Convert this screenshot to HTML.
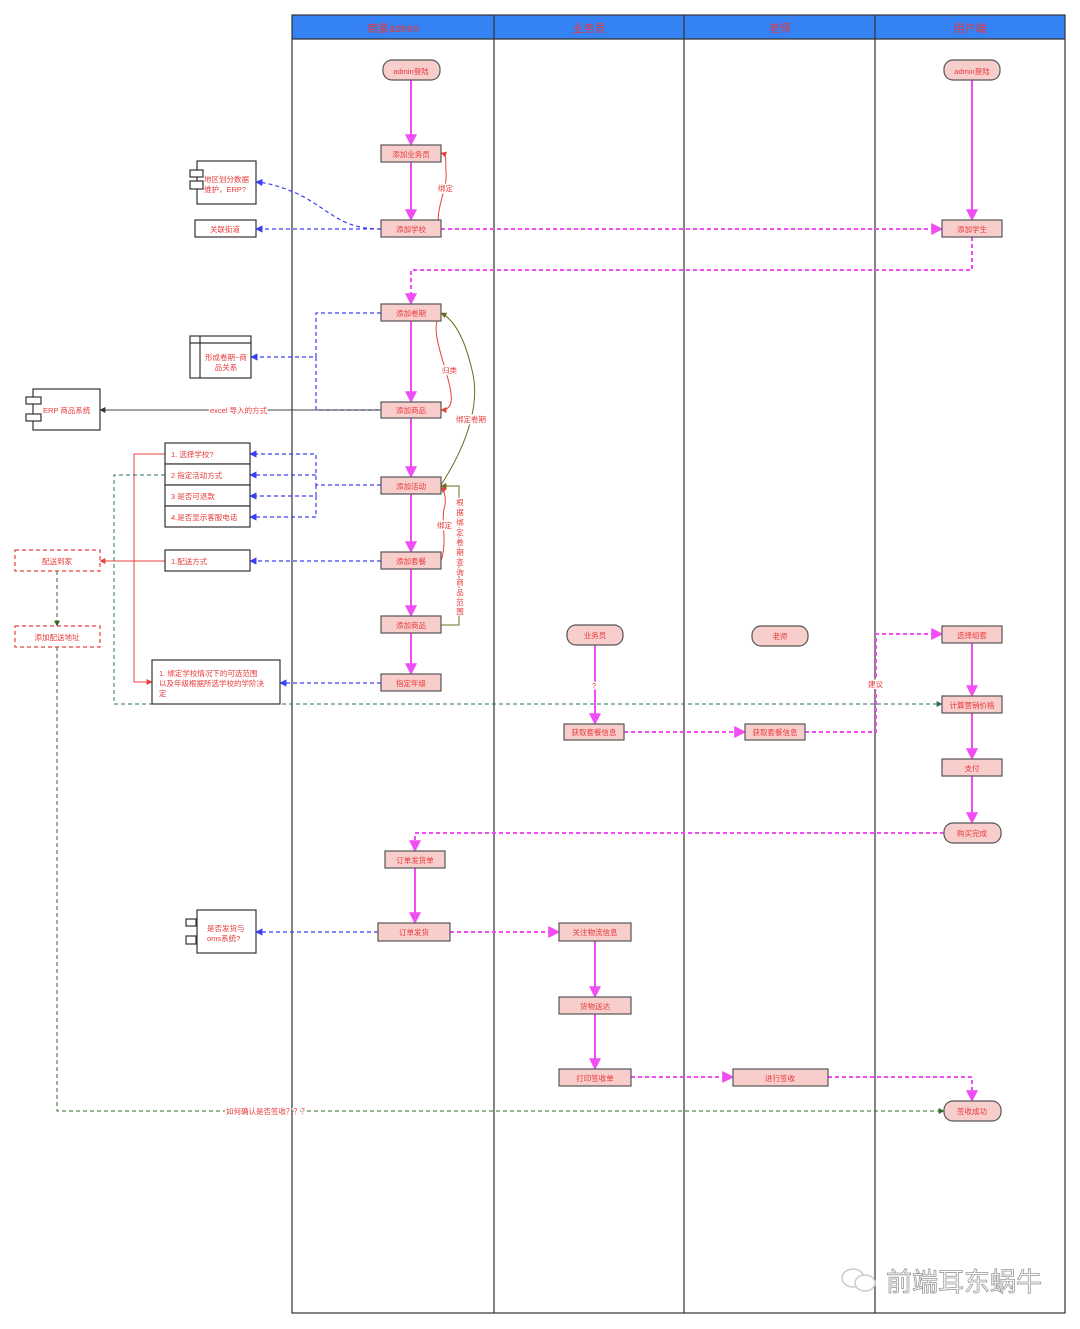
<!DOCTYPE html>
<html><head><meta charset="utf-8"><style>
html,body{margin:0;padding:0;background:#fff}
svg{display:block}
text{font-family:"Liberation Sans","Noto Sans CJK SC",sans-serif;fill:#e8393a;font-size:7.5px}
</style></head><body>
<svg width="1080" height="1329" viewBox="0 0 1080 1329" xmlns="http://www.w3.org/2000/svg">
<defs>
<marker id="mg" viewBox="0 0 10 10" refX="9" refY="5" markerWidth="6" markerHeight="6" orient="auto"><path d="M0,0L10,5L0,10z" fill="#f04df5"/></marker>
<marker id="bl" viewBox="0 0 10 10" refX="9" refY="5" markerWidth="6" markerHeight="6" orient="auto"><path d="M0,0L10,5L0,10z" fill="#3a3ef5"/></marker>
<marker id="rd" viewBox="0 0 10 10" refX="9" refY="5" markerWidth="6" markerHeight="6" orient="auto"><path d="M0,0L10,5L0,10z" fill="#e8413a"/></marker>
<marker id="ol" viewBox="0 0 10 10" refX="9" refY="5" markerWidth="6" markerHeight="6" orient="auto"><path d="M0,0L10,5L0,10z" fill="#6b6b1e"/></marker>
<marker id="tl" viewBox="0 0 10 10" refX="9" refY="5" markerWidth="6" markerHeight="6" orient="auto"><path d="M0,0L10,5L0,10z" fill="#2f6b6a"/></marker>
<marker id="gr" viewBox="0 0 10 10" refX="9" refY="5" markerWidth="6" markerHeight="6" orient="auto"><path d="M0,0L10,5L0,10z" fill="#2f6b22"/></marker>
<marker id="bk" viewBox="0 0 10 10" refX="9" refY="5" markerWidth="6" markerHeight="6" orient="auto"><path d="M0,0L10,5L0,10z" fill="#333"/></marker>
</defs>
<!-- lanes -->
<rect x="292" y="15" width="773" height="24" fill="#3582f5"/>
<g stroke="#333" stroke-width="1.2" fill="none">
<rect x="292" y="15" width="773" height="1298"/>
<line x1="292" y1="39" x2="1065" y2="39"/>
<line x1="494" y1="15" x2="494" y2="1313"/>
<line x1="684" y1="15" x2="684" y2="1313"/>
<line x1="875" y1="15" x2="875" y2="1313"/>
</g>
<g text-anchor="middle">
<text x="393" y="32" style="font-size:11px">商家admin</text>
<text x="589" y="32" style="font-size:11px">业务员</text>
<text x="780" y="32" style="font-size:11px">老师</text>
<text x="970" y="32" style="font-size:11px">用户端</text>
</g>

<!-- connectors magenta solid -->
<g stroke="#f04df5" stroke-width="2" fill="none" marker-end="url(#mg)">
<line x1="411" y1="80" x2="411" y2="145"/>
<line x1="411" y1="162" x2="411" y2="220"/>
<line x1="411" y1="321" x2="411" y2="402"/>
<line x1="411" y1="418" x2="411" y2="477"/>
<line x1="411" y1="494" x2="411" y2="552"/>
<line x1="411" y1="569" x2="411" y2="616"/>
<line x1="411" y1="633" x2="411" y2="674"/>
<line x1="415" y1="868" x2="415" y2="923"/>
<line x1="972" y1="80" x2="972" y2="220"/>
<line x1="972" y1="643" x2="972" y2="696"/>
<line x1="972" y1="713" x2="972" y2="759"/>
<line x1="972" y1="776" x2="972" y2="823"/>
<line x1="595" y1="645" x2="595" y2="724"/>
<line x1="595" y1="941" x2="595" y2="997"/>
<line x1="595" y1="1014" x2="595" y2="1069"/>
</g>
<!-- magenta dashed -->
<g stroke="#f04df5" stroke-width="2" fill="none" stroke-dasharray="4,3" marker-end="url(#mg)">
<line x1="441" y1="229" x2="942" y2="229"/>
<path d="M972 237 V270 H411 V304"/>
<line x1="624" y1="732" x2="745" y2="732"/>
<path d="M805 732 H876 V634 H942"/>
<path d="M944 833 H415 V851"/>
<line x1="450" y1="932" x2="559" y2="932"/>
<line x1="631" y1="1077" x2="733" y2="1077"/>
<path d="M828 1077 H972 V1101"/>
</g>
<!-- blue dashed -->
<g stroke="#3a3ef5" stroke-width="1.2" fill="none" stroke-dasharray="4,3" marker-end="url(#bl)">
<path d="M381 229 C340 229 330 210 300 195 C285 188 270 183 256 182"/>
<line x1="381" y1="229" x2="256" y2="229"/>
<path d="M381 313 H316 V357 H251"/>
<path d="M316 357 V410 H381" marker-end="none"/>
<path d="M381 485 H316 V454 H250"/>
<path d="M316 475 H250"/>
<path d="M316 485 V496 H250"/>
<path d="M316 496 V517 H250"/>
<line x1="381" y1="561" x2="250" y2="561"/>
<line x1="381" y1="683" x2="280" y2="683"/>
<line x1="378" y1="932" x2="256" y2="932"/>
</g>
<!-- black -->
<line x1="381" y1="410" x2="100" y2="410" stroke="#444" stroke-width="1" marker-end="url(#bk)"/>
<!-- red -->
<g stroke="#e8413a" stroke-width="1" fill="none" marker-end="url(#rd)">
<path d="M441 229 C432 215 448 190 446 172 C445 160 448 155 441 153"/>
<path d="M441 313 C430 325 440 350 446 372 C452 392 456 410 441 410"/>
<path d="M441 561 C448 540 440 520 445 505 C446 495 444 490 441 487"/>
<path d="M165 454 H134 V682 H152"/>
<line x1="165" y1="561" x2="100" y2="561"/>
</g>
<!-- olive -->
<g stroke="#6b6b1e" stroke-width="1" fill="none" marker-end="url(#ol)">
<path d="M441 485 C470 440 480 400 472 370 C465 340 455 320 441 313"/>
<path d="M441 625 H459 V486 H441"/>
</g>
<!-- teal dashed -->
<path d="M165 475 H114 V704 H942" stroke="#2f6b6a" stroke-width="1" fill="none" stroke-dasharray="4,3" marker-end="url(#tl)"/>
<!-- green dashed -->
<line x1="57" y1="571" x2="57" y2="626" stroke="#2f6b22" stroke-width="1" stroke-dasharray="4,3" marker-end="url(#gr)"/>
<path d="M57 647 V1111 H944" stroke="#2f6b22" stroke-width="1" fill="none" stroke-dasharray="4,3" marker-end="url(#gr)"/>

<!-- edge labels -->
<g style="paint-order:stroke" stroke="#fff" stroke-width="3">
<text x="438" y="191">绑定</text>
<text x="442" y="373">归类</text>
<text x="456" y="422">绑定卷期</text>
<text x="437" y="528">绑定</text>
<text x="210" y="413">excel 导入的方式</text>
<text x="592" y="688">?</text>
<text x="868" y="687">建议</text>
<text x="226" y="1114">如何确认是否签收？？？</text>
</g>
<g text-anchor="middle" style="paint-order:stroke" stroke="#fff" stroke-width="2">
<text x="460" y="505">根</text><text x="460" y="515">据</text><text x="460" y="525">绑</text><text x="460" y="535">定</text><text x="460" y="545">卷</text><text x="460" y="555">期</text><text x="460" y="565">查</text><text x="460" y="575">询</text><text x="460" y="585">商</text><text x="460" y="595">品</text><text x="460" y="605">范</text><text x="460" y="614">围</text>
</g>

<!-- nodes -->
<g fill="#f8cecc" stroke="#555" stroke-width="1.2">
<rect x="383" y="60" width="57" height="20" rx="9"/>
<rect x="944" y="60" width="56" height="20" rx="9"/>
<rect x="381" y="145" width="60" height="17"/>
<rect x="381" y="220" width="60" height="17"/>
<rect x="942" y="220" width="60" height="17"/>
<rect x="381" y="304" width="60" height="17"/>
<rect x="381" y="402" width="60" height="16"/>
<rect x="381" y="477" width="60" height="17"/>
<rect x="381" y="552" width="60" height="17"/>
<rect x="381" y="616" width="60" height="17"/>
<rect x="381" y="674" width="60" height="17"/>
<rect x="567" y="625" width="56" height="20" rx="9"/>
<rect x="752" y="626" width="56" height="20" rx="9"/>
<rect x="942" y="626" width="60" height="17"/>
<rect x="942" y="696" width="60" height="17"/>
<rect x="564" y="724" width="60" height="16"/>
<rect x="745" y="724" width="60" height="16"/>
<rect x="942" y="759" width="60" height="17"/>
<rect x="944" y="823" width="57" height="20" rx="9"/>
<rect x="385" y="851" width="60" height="17"/>
<rect x="378" y="923" width="72" height="18"/>
<rect x="559" y="923" width="72" height="18"/>
<rect x="559" y="997" width="72" height="17"/>
<rect x="559" y="1069" width="72" height="17"/>
<rect x="733" y="1069" width="95" height="17"/>
<rect x="944" y="1101" width="57" height="20" rx="9"/>
</g>
<g text-anchor="middle">
<text x="411" y="74">admin登陆</text>
<text x="972" y="74">admin登陆</text>
<text x="411" y="157">添加业务员</text>
<text x="411" y="232">添加学校</text>
<text x="972" y="232">添加学生</text>
<text x="411" y="316">添加卷期</text>
<text x="411" y="413">添加商品</text>
<text x="411" y="489">添加活动</text>
<text x="411" y="564">添加套餐</text>
<text x="411" y="628">添加商品</text>
<text x="411" y="686">指定年级</text>
<text x="595" y="638">业务员</text>
<text x="780" y="639">老师</text>
<text x="972" y="638">选择组套</text>
<text x="972" y="708">计算营销价格</text>
<text x="594" y="735">获取套餐信息</text>
<text x="775" y="735">获取套餐信息</text>
<text x="972" y="771">支付</text>
<text x="972" y="836">购买完成</text>
<text x="415" y="863">订单发货单</text>
<text x="414" y="935">订单发货</text>
<text x="595" y="935">关注物流信息</text>
<text x="595" y="1009">货物送达</text>
<text x="595" y="1081">打印签收单</text>
<text x="780" y="1081">进行签收</text>
<text x="972" y="1114">签收成功</text>
</g>

<!-- left side boxes -->
<g fill="#fff" stroke="#333" stroke-width="1.2">
<rect x="197" y="161" width="59" height="43"/>
<rect x="190" y="170" width="13" height="7"/>
<rect x="190" y="181" width="13" height="8"/>
<rect x="195" y="220" width="61" height="17"/>
<rect x="190" y="336" width="61" height="42"/>
<rect x="33" y="389" width="67" height="41"/>
<rect x="26" y="397" width="15" height="7"/>
<rect x="26" y="414" width="15" height="7"/>
<rect x="165" y="443" width="85" height="21"/>
<rect x="165" y="464" width="85" height="21"/>
<rect x="165" y="485" width="85" height="21"/>
<rect x="165" y="506" width="85" height="21"/>
<rect x="165" y="550" width="85" height="21"/>
<rect x="152" y="660" width="128" height="44"/>
<rect x="197" y="910" width="59" height="43"/>
<rect x="186" y="919" width="10" height="7"/>
<rect x="186" y="936" width="10" height="8"/>
</g>
<g stroke="#333" stroke-width="1.2"><line x1="190" y1="343" x2="251" y2="343"/><line x1="200" y1="336" x2="200" y2="378"/></g>
<g fill="#fff" stroke="#e8413a" stroke-width="1.2" stroke-dasharray="4,3">
<rect x="15" y="550" width="85" height="21"/>
<rect x="15" y="626" width="85" height="21"/>
</g>
<text x="204" y="182">地区划分数据</text>
<text x="204" y="192">维护，ERP?</text>
<text x="225" y="232" text-anchor="middle">关联街道</text>
<text x="226" y="360" text-anchor="middle">形成卷期−商</text>
<text x="226" y="370" text-anchor="middle">品关系</text>
<text x="43" y="413">ERP 商品系统</text>
<text x="171" y="457">1. 选择学校?</text>
<text x="171" y="478">2 指定活动方式</text>
<text x="171" y="499">3 是否可退款</text>
<text x="171" y="520">4.是否显示客服电话</text>
<text x="171" y="564">1.配送方式</text>
<text x="57" y="564" text-anchor="middle">配送到家</text>
<text x="57" y="640" text-anchor="middle">添加配送地址</text>
<text x="159" y="676">1. 绑定学校情况下的可选范围</text>
<text x="159" y="686">以及年级根据所选学校的学阶决</text>
<text x="159" y="696">定</text>
<text x="207" y="931">是否发货与</text>
<text x="207" y="941">oms系统?</text>

<!-- watermark -->
<g fill="none" stroke="#ccc" stroke-width="1.5">
<ellipse cx="853" cy="1278" rx="11" ry="9"/>
<ellipse cx="865" cy="1283" rx="10" ry="8" fill="#fff"/>
</g>
<text x="886" y="1291" style="font-size:26px;fill:#fff;stroke:#999;stroke-width:0.8">前端耳东蜗牛</text>
</svg>
</body></html>
